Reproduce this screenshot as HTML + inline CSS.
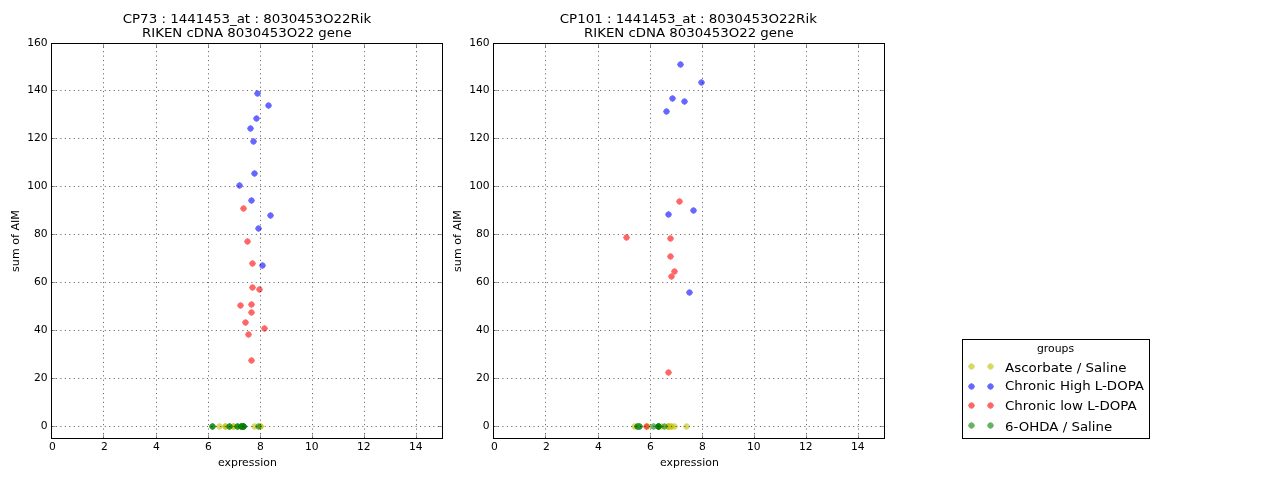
<!DOCTYPE html>
<html><head><meta charset="utf-8"><title>AIM vs expression</title>
<style>
html,body{margin:0;padding:0;background:#fff;}
body{width:1280px;height:480px;overflow:hidden;}
svg{display:block;}
text{font-family:"DejaVu Sans", "Liberation Sans", sans-serif;fill:#000;}
.t12{font-size:13.33px;}
.t10{font-size:11.11px;}
.ax{fill:none;stroke:#000;stroke-width:1;shape-rendering:crispEdges;}
.tick{stroke:#000;stroke-width:0.42;}
.grid{stroke:#000;stroke-width:0.6;stroke-dasharray:1.11 3.33;fill:none;}
</style></head><body>
<svg width="1280" height="480" viewBox="0 0 1280 480">
<defs><polygon id="m" points="3,0 2,2 0,3 -2,2 -3,0 -2,-2 0,-3 2,-2" stroke-width="0.8" stroke-linejoin="round"/></defs>
<rect x="0" y="0" width="1280" height="480" fill="#ffffff"/>

<g transform="translate(0,0)">
<g fill="#bfbf00" stroke="#bfbf00" opacity="0.6"><use href="#m" x="219.5" y="426.5"/><use href="#m" x="225.5" y="426.5"/><use href="#m" x="233.5" y="426.5"/><use href="#m" x="240.5" y="426.5"/><use href="#m" x="254.5" y="426.5"/><use href="#m" x="260.5" y="426.5"/></g>
<g fill="#bfbf00" stroke="#bfbf00" opacity="0.6"><use href="#m" x="225.5" y="426.5"/><use href="#m" x="233.5" y="426.5"/><use href="#m" x="260.5" y="426.5"/></g>
<g fill="#0000ff" stroke="#0000ff" opacity="0.6"><use href="#m" x="257.5" y="93.5"/><use href="#m" x="268.5" y="105.5"/><use href="#m" x="256.5" y="118.5"/><use href="#m" x="250.5" y="128.5"/><use href="#m" x="253.5" y="141.5"/><use href="#m" x="254.5" y="173.5"/><use href="#m" x="239.5" y="185.5"/><use href="#m" x="251.5" y="200.5"/><use href="#m" x="270.5" y="215.5"/><use href="#m" x="258.5" y="228.5"/><use href="#m" x="262.5" y="265.5"/></g>
<g fill="#ff0000" stroke="#ff0000" opacity="0.6"><use href="#m" x="243.5" y="208.5"/><use href="#m" x="247.5" y="241.5"/><use href="#m" x="252.5" y="263.5"/><use href="#m" x="252.5" y="287.5"/><use href="#m" x="259.5" y="289.5"/><use href="#m" x="240.5" y="305.5"/><use href="#m" x="251.5" y="304.5"/><use href="#m" x="251.5" y="312.5"/><use href="#m" x="245.5" y="322.5"/><use href="#m" x="264.5" y="328.5"/><use href="#m" x="248.5" y="334.5"/><use href="#m" x="251.5" y="360.5"/></g>
<g fill="#008000" stroke="#008000" opacity="0.6"><use href="#m" x="212.5" y="426.5"/><use href="#m" x="229.5" y="426.5"/><use href="#m" x="237.5" y="426.5"/><use href="#m" x="241.5" y="426.5"/><use href="#m" x="243.5" y="426.5"/><use href="#m" x="258.5" y="426.5"/></g>
<g fill="#008000" stroke="#008000" opacity="0.6"><use href="#m" x="212.5" y="426.5"/><use href="#m" x="229.5" y="426.5"/><use href="#m" x="237.5" y="426.5"/><use href="#m" x="241.5" y="426.5"/><use href="#m" x="243.5" y="426.5"/></g>
<g fill="#008000" stroke="#008000" opacity="0.6"><use href="#m" x="241.5" y="426.5"/><use href="#m" x="243.5" y="426.5"/></g>
<g fill="#008000" stroke="#008000" opacity="0.6"><use href="#m" x="243.5" y="426.5"/></g>
<line class="grid" x1="103.5" y1="438.5" x2="103.5" y2="43.5"/>
<line class="grid" x1="156.5" y1="438.5" x2="156.5" y2="43.5"/>
<line class="grid" x1="208.5" y1="438.5" x2="208.5" y2="43.5"/>
<line class="grid" x1="260.5" y1="438.5" x2="260.5" y2="43.5"/>
<line class="grid" x1="312.5" y1="438.5" x2="312.5" y2="43.5"/>
<line class="grid" x1="364.5" y1="438.5" x2="364.5" y2="43.5"/>
<line class="grid" x1="416.5" y1="438.5" x2="416.5" y2="43.5"/>
<line class="grid" x1="51.5" y1="426.5" x2="442.5" y2="426.5"/>
<line class="grid" x1="51.5" y1="378.5" x2="442.5" y2="378.5"/>
<line class="grid" x1="51.5" y1="330.5" x2="442.5" y2="330.5"/>
<line class="grid" x1="51.5" y1="282.5" x2="442.5" y2="282.5"/>
<line class="grid" x1="51.5" y1="234.5" x2="442.5" y2="234.5"/>
<line class="grid" x1="51.5" y1="186.5" x2="442.5" y2="186.5"/>
<line class="grid" x1="51.5" y1="138.5" x2="442.5" y2="138.5"/>
<line class="grid" x1="51.5" y1="90.5" x2="442.5" y2="90.5"/>
<line class="tick" x1="51.5" y1="438.5" x2="51.5" y2="434.4"/>
<line class="tick" x1="51.5" y1="43.5" x2="51.5" y2="47.6"/>
<line class="tick" x1="103.5" y1="438.5" x2="103.5" y2="434.4"/>
<line class="tick" x1="103.5" y1="43.5" x2="103.5" y2="47.6"/>
<line class="tick" x1="156.5" y1="438.5" x2="156.5" y2="434.4"/>
<line class="tick" x1="156.5" y1="43.5" x2="156.5" y2="47.6"/>
<line class="tick" x1="208.5" y1="438.5" x2="208.5" y2="434.4"/>
<line class="tick" x1="208.5" y1="43.5" x2="208.5" y2="47.6"/>
<line class="tick" x1="260.5" y1="438.5" x2="260.5" y2="434.4"/>
<line class="tick" x1="260.5" y1="43.5" x2="260.5" y2="47.6"/>
<line class="tick" x1="312.5" y1="438.5" x2="312.5" y2="434.4"/>
<line class="tick" x1="312.5" y1="43.5" x2="312.5" y2="47.6"/>
<line class="tick" x1="364.5" y1="438.5" x2="364.5" y2="434.4"/>
<line class="tick" x1="364.5" y1="43.5" x2="364.5" y2="47.6"/>
<line class="tick" x1="416.5" y1="438.5" x2="416.5" y2="434.4"/>
<line class="tick" x1="416.5" y1="43.5" x2="416.5" y2="47.6"/>
<line class="tick" x1="51.5" y1="426.5" x2="55.6" y2="426.5"/>
<line class="tick" x1="442.5" y1="426.5" x2="438.4" y2="426.5"/>
<line class="tick" x1="51.5" y1="378.5" x2="55.6" y2="378.5"/>
<line class="tick" x1="442.5" y1="378.5" x2="438.4" y2="378.5"/>
<line class="tick" x1="51.5" y1="330.5" x2="55.6" y2="330.5"/>
<line class="tick" x1="442.5" y1="330.5" x2="438.4" y2="330.5"/>
<line class="tick" x1="51.5" y1="282.5" x2="55.6" y2="282.5"/>
<line class="tick" x1="442.5" y1="282.5" x2="438.4" y2="282.5"/>
<line class="tick" x1="51.5" y1="234.5" x2="55.6" y2="234.5"/>
<line class="tick" x1="442.5" y1="234.5" x2="438.4" y2="234.5"/>
<line class="tick" x1="51.5" y1="186.5" x2="55.6" y2="186.5"/>
<line class="tick" x1="442.5" y1="186.5" x2="438.4" y2="186.5"/>
<line class="tick" x1="51.5" y1="138.5" x2="55.6" y2="138.5"/>
<line class="tick" x1="442.5" y1="138.5" x2="438.4" y2="138.5"/>
<line class="tick" x1="51.5" y1="90.5" x2="55.6" y2="90.5"/>
<line class="tick" x1="442.5" y1="90.5" x2="438.4" y2="90.5"/>
<line class="tick" x1="51.5" y1="43.5" x2="55.6" y2="43.5"/>
<line class="tick" x1="442.5" y1="43.5" x2="438.4" y2="43.5"/>
<rect class="ax" x="51.5" y="43.5" width="391.0" height="395.0"/>
<text class="t10" transform="translate(52.50,449.60) scale(0.965,1.0)" text-anchor="middle">0</text>
<text class="t10" transform="translate(104.50,449.60) scale(0.965,1.0)" text-anchor="middle">2</text>
<text class="t10" transform="translate(156.50,449.60) scale(0.965,1.0)" text-anchor="middle">4</text>
<text class="t10" transform="translate(208.50,449.60) scale(0.965,1.0)" text-anchor="middle">6</text>
<text class="t10" transform="translate(260.50,449.60) scale(0.965,1.0)" text-anchor="middle">8</text>
<text class="t10" transform="translate(311.70,449.60) scale(0.965,1.0)" text-anchor="middle">10</text>
<text class="t10" transform="translate(363.70,449.60) scale(0.965,1.0)" text-anchor="middle">12</text>
<text class="t10" transform="translate(415.70,449.60) scale(0.965,1.0)" text-anchor="middle">14</text>
<text class="t10" transform="translate(47.70,428.60) scale(0.965,1.0)" text-anchor="end">0</text>
<text class="t10" transform="translate(47.70,380.60) scale(0.965,1.0)" text-anchor="end">20</text>
<text class="t10" transform="translate(47.70,332.60) scale(0.965,1.0)" text-anchor="end">40</text>
<text class="t10" transform="translate(47.70,284.60) scale(0.965,1.0)" text-anchor="end">60</text>
<text class="t10" transform="translate(47.70,236.60) scale(0.965,1.0)" text-anchor="end">80</text>
<text class="t10" transform="translate(47.70,188.60) scale(0.965,1.0)" text-anchor="end">100</text>
<text class="t10" transform="translate(47.70,140.60) scale(0.965,1.0)" text-anchor="end">120</text>
<text class="t10" transform="translate(47.70,92.60) scale(0.965,1.0)" text-anchor="end">140</text>
<text class="t10" transform="translate(47.70,45.60) scale(0.965,1.0)" text-anchor="end">160</text>
<text class="t10" transform="translate(247.40,466.00) scale(0.983,1.0)" text-anchor="middle">expression</text>
<text class="t10" transform="translate(18.90,241.00) rotate(-90)" text-anchor="middle">sum of AIM</text>
<text class="t12" transform="translate(247.00,23.20) scale(1.007,0.92)" text-anchor="middle">CP73 : 1441453_at : 8030453O22Rik</text>
<text class="t12" transform="translate(246.80,37.20) scale(1.0,0.92)" text-anchor="middle">RIKEN cDNA 8030453O22 gene</text>
</g>
<g transform="translate(442,0)">
<g fill="#bfbf00" stroke="#bfbf00" opacity="0.6"><use href="#m" x="192.5" y="426.5"/><use href="#m" x="205.5" y="426.5"/><use href="#m" x="219.5" y="426.5"/><use href="#m" x="226.5" y="426.5"/><use href="#m" x="229.5" y="426.5"/><use href="#m" x="232.5" y="426.5"/><use href="#m" x="244.5" y="426.5"/></g>
<g fill="#bfbf00" stroke="#bfbf00" opacity="0.6"><use href="#m" x="226.5" y="426.5"/><use href="#m" x="229.5" y="426.5"/></g>
<g fill="#bfbf00" stroke="#bfbf00" opacity="0.6"><use href="#m" x="226.5" y="426.5"/></g>
<g fill="#0000ff" stroke="#0000ff" opacity="0.6"><use href="#m" x="238.5" y="64.5"/><use href="#m" x="259.5" y="82.5"/><use href="#m" x="230.5" y="98.5"/><use href="#m" x="242.5" y="101.5"/><use href="#m" x="224.5" y="111.5"/><use href="#m" x="251.5" y="210.5"/><use href="#m" x="226.5" y="214.5"/><use href="#m" x="247.5" y="292.5"/></g>
<g fill="#ff0000" stroke="#ff0000" opacity="0.6"><use href="#m" x="237.5" y="201.5"/><use href="#m" x="184.5" y="237.5"/><use href="#m" x="228.5" y="238.5"/><use href="#m" x="228.5" y="256.5"/><use href="#m" x="232.5" y="271.5"/><use href="#m" x="229.5" y="276.5"/><use href="#m" x="226.5" y="372.5"/><use href="#m" x="204.5" y="426.5"/></g>
<g fill="#008000" stroke="#008000" opacity="0.6"><use href="#m" x="195.5" y="426.5"/><use href="#m" x="197.5" y="426.5"/><use href="#m" x="211.5" y="426.5"/><use href="#m" x="216.5" y="426.5"/><use href="#m" x="222.5" y="426.5"/></g>
<g fill="#008000" stroke="#008000" opacity="0.6"><use href="#m" x="195.5" y="426.5"/><use href="#m" x="197.5" y="426.5"/><use href="#m" x="216.5" y="426.5"/></g>
<g fill="#008000" stroke="#008000" opacity="0.6"><use href="#m" x="216.5" y="426.5"/></g>
<g fill="#008000" stroke="#008000" opacity="0.6"><use href="#m" x="216.5" y="426.5"/></g>
<line class="grid" x1="103.5" y1="438.5" x2="103.5" y2="43.5"/>
<line class="grid" x1="156.5" y1="438.5" x2="156.5" y2="43.5"/>
<line class="grid" x1="208.5" y1="438.5" x2="208.5" y2="43.5"/>
<line class="grid" x1="260.5" y1="438.5" x2="260.5" y2="43.5"/>
<line class="grid" x1="312.5" y1="438.5" x2="312.5" y2="43.5"/>
<line class="grid" x1="364.5" y1="438.5" x2="364.5" y2="43.5"/>
<line class="grid" x1="416.5" y1="438.5" x2="416.5" y2="43.5"/>
<line class="grid" x1="51.5" y1="426.5" x2="442.5" y2="426.5"/>
<line class="grid" x1="51.5" y1="378.5" x2="442.5" y2="378.5"/>
<line class="grid" x1="51.5" y1="330.5" x2="442.5" y2="330.5"/>
<line class="grid" x1="51.5" y1="282.5" x2="442.5" y2="282.5"/>
<line class="grid" x1="51.5" y1="234.5" x2="442.5" y2="234.5"/>
<line class="grid" x1="51.5" y1="186.5" x2="442.5" y2="186.5"/>
<line class="grid" x1="51.5" y1="138.5" x2="442.5" y2="138.5"/>
<line class="grid" x1="51.5" y1="90.5" x2="442.5" y2="90.5"/>
<line class="tick" x1="51.5" y1="438.5" x2="51.5" y2="434.4"/>
<line class="tick" x1="51.5" y1="43.5" x2="51.5" y2="47.6"/>
<line class="tick" x1="103.5" y1="438.5" x2="103.5" y2="434.4"/>
<line class="tick" x1="103.5" y1="43.5" x2="103.5" y2="47.6"/>
<line class="tick" x1="156.5" y1="438.5" x2="156.5" y2="434.4"/>
<line class="tick" x1="156.5" y1="43.5" x2="156.5" y2="47.6"/>
<line class="tick" x1="208.5" y1="438.5" x2="208.5" y2="434.4"/>
<line class="tick" x1="208.5" y1="43.5" x2="208.5" y2="47.6"/>
<line class="tick" x1="260.5" y1="438.5" x2="260.5" y2="434.4"/>
<line class="tick" x1="260.5" y1="43.5" x2="260.5" y2="47.6"/>
<line class="tick" x1="312.5" y1="438.5" x2="312.5" y2="434.4"/>
<line class="tick" x1="312.5" y1="43.5" x2="312.5" y2="47.6"/>
<line class="tick" x1="364.5" y1="438.5" x2="364.5" y2="434.4"/>
<line class="tick" x1="364.5" y1="43.5" x2="364.5" y2="47.6"/>
<line class="tick" x1="416.5" y1="438.5" x2="416.5" y2="434.4"/>
<line class="tick" x1="416.5" y1="43.5" x2="416.5" y2="47.6"/>
<line class="tick" x1="51.5" y1="426.5" x2="55.6" y2="426.5"/>
<line class="tick" x1="442.5" y1="426.5" x2="438.4" y2="426.5"/>
<line class="tick" x1="51.5" y1="378.5" x2="55.6" y2="378.5"/>
<line class="tick" x1="442.5" y1="378.5" x2="438.4" y2="378.5"/>
<line class="tick" x1="51.5" y1="330.5" x2="55.6" y2="330.5"/>
<line class="tick" x1="442.5" y1="330.5" x2="438.4" y2="330.5"/>
<line class="tick" x1="51.5" y1="282.5" x2="55.6" y2="282.5"/>
<line class="tick" x1="442.5" y1="282.5" x2="438.4" y2="282.5"/>
<line class="tick" x1="51.5" y1="234.5" x2="55.6" y2="234.5"/>
<line class="tick" x1="442.5" y1="234.5" x2="438.4" y2="234.5"/>
<line class="tick" x1="51.5" y1="186.5" x2="55.6" y2="186.5"/>
<line class="tick" x1="442.5" y1="186.5" x2="438.4" y2="186.5"/>
<line class="tick" x1="51.5" y1="138.5" x2="55.6" y2="138.5"/>
<line class="tick" x1="442.5" y1="138.5" x2="438.4" y2="138.5"/>
<line class="tick" x1="51.5" y1="90.5" x2="55.6" y2="90.5"/>
<line class="tick" x1="442.5" y1="90.5" x2="438.4" y2="90.5"/>
<line class="tick" x1="51.5" y1="43.5" x2="55.6" y2="43.5"/>
<line class="tick" x1="442.5" y1="43.5" x2="438.4" y2="43.5"/>
<rect class="ax" x="51.5" y="43.5" width="391.0" height="395.0"/>
<text class="t10" transform="translate(52.50,449.60) scale(0.965,1.0)" text-anchor="middle">0</text>
<text class="t10" transform="translate(104.50,449.60) scale(0.965,1.0)" text-anchor="middle">2</text>
<text class="t10" transform="translate(156.50,449.60) scale(0.965,1.0)" text-anchor="middle">4</text>
<text class="t10" transform="translate(208.50,449.60) scale(0.965,1.0)" text-anchor="middle">6</text>
<text class="t10" transform="translate(260.50,449.60) scale(0.965,1.0)" text-anchor="middle">8</text>
<text class="t10" transform="translate(311.70,449.60) scale(0.965,1.0)" text-anchor="middle">10</text>
<text class="t10" transform="translate(363.70,449.60) scale(0.965,1.0)" text-anchor="middle">12</text>
<text class="t10" transform="translate(415.70,449.60) scale(0.965,1.0)" text-anchor="middle">14</text>
<text class="t10" transform="translate(47.70,428.60) scale(0.965,1.0)" text-anchor="end">0</text>
<text class="t10" transform="translate(47.70,380.60) scale(0.965,1.0)" text-anchor="end">20</text>
<text class="t10" transform="translate(47.70,332.60) scale(0.965,1.0)" text-anchor="end">40</text>
<text class="t10" transform="translate(47.70,284.60) scale(0.965,1.0)" text-anchor="end">60</text>
<text class="t10" transform="translate(47.70,236.60) scale(0.965,1.0)" text-anchor="end">80</text>
<text class="t10" transform="translate(47.70,188.60) scale(0.965,1.0)" text-anchor="end">100</text>
<text class="t10" transform="translate(47.70,140.60) scale(0.965,1.0)" text-anchor="end">120</text>
<text class="t10" transform="translate(47.70,92.60) scale(0.965,1.0)" text-anchor="end">140</text>
<text class="t10" transform="translate(47.70,45.60) scale(0.965,1.0)" text-anchor="end">160</text>
<text class="t10" transform="translate(247.40,466.00) scale(0.983,1.0)" text-anchor="middle">expression</text>
<text class="t10" transform="translate(18.90,241.00) rotate(-90)" text-anchor="middle">sum of AIM</text>
<text class="t12" transform="translate(246.30,23.20) scale(1.007,0.92)" text-anchor="middle">CP101 : 1441453_at : 8030453O22Rik</text>
<text class="t12" transform="translate(246.80,37.20) scale(1.0,0.92)" text-anchor="middle">RIKEN cDNA 8030453O22 gene</text>
</g>
<g>
<rect class="ax" x="962.5" y="339.5" width="187" height="99" fill="#fff"/>
<text class="t10" transform="translate(1037.00,352.00) scale(0.975,1.0)">groups</text>
<g fill="#bfbf00" stroke="#bfbf00" opacity="0.6"><use href="#m" x="971.5" y="366.5"/><use href="#m" x="990.5" y="366.5"/></g>
<text class="t12" transform="translate(1005.00,371.90) scale(1.007,0.92)">Ascorbate / Saline</text>
<g fill="#0000ff" stroke="#0000ff" opacity="0.6"><use href="#m" x="971.5" y="386.5"/><use href="#m" x="990.5" y="386.5"/></g>
<text class="t12" transform="translate(1005.00,389.80) scale(1.003,0.92)">Chronic High L-DOPA</text>
<g fill="#ff0000" stroke="#ff0000" opacity="0.6"><use href="#m" x="971.5" y="405.5"/><use href="#m" x="990.5" y="405.5"/></g>
<text class="t12" transform="translate(1005.00,410.10) scale(1.007,0.92)">Chronic low L-DOPA</text>
<g fill="#008000" stroke="#008000" opacity="0.6"><use href="#m" x="971.5" y="425.5"/><use href="#m" x="990.5" y="425.5"/></g>
<text class="t12" transform="translate(1005.00,430.90) scale(1.003,0.92)">6-OHDA / Saline</text>
</g>
</svg></body></html>
